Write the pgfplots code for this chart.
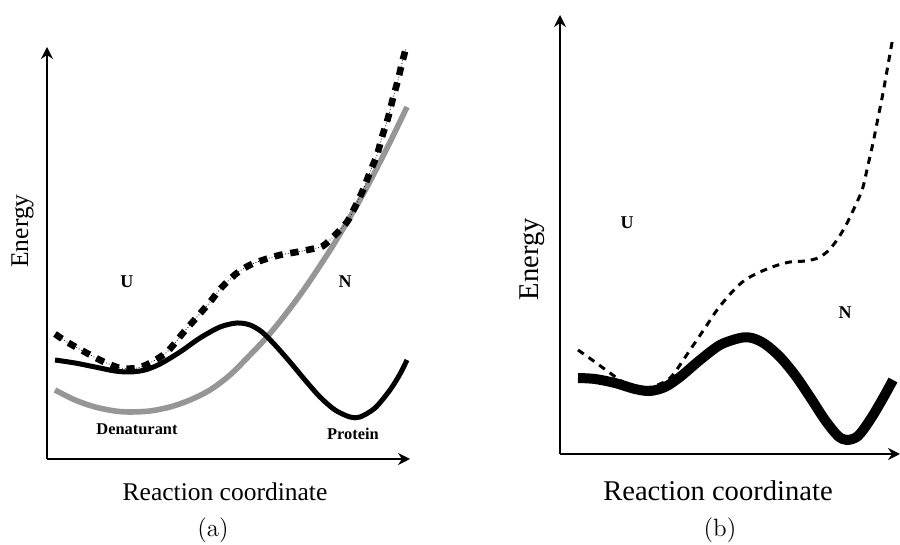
\documentclass[border=0pt]{standalone}
\usepackage{fontspec}
\usepackage{pgfplots}
\pgfplotsset{compat=1.18}
\usetikzlibrary{arrows.meta}
\newfontfamily\tnr{Liberation Serif}
\definecolor{grayline}{RGB}{150,150,150}
\pgfplotsset{
  panel/.style={
    anchor=south west, scale only axis,
    axis lines=left,
    axis line style={line width=1.1pt,-{Stealth[length=6pt,width=6pt,inset=2pt]}},
    xtick=\empty, ytick=\empty, clip=false,
  }
}
\begin{document}
\begin{tikzpicture}
\useasboundingbox (0pt,0pt) rectangle (450pt,272.5pt);
% ---------------- panel (a)
\begin{axis}[panel,
  at={(23.5pt,43pt)}, width=181.5pt, height=206pt,
  xmin=47, xmax=410, ymin=86, ymax=498]
\addplot[grayline, line width=2.8pt, smooth] coordinates {
(55,155) (75,145) (95,138) (115,134) (130,133) (150,134) (170,138) (190,145)
(210,155) (230,170) (250,190) (267,208) (285,230) (305,257) (327,290) (340,311)
(353,333) (367,358) (380,383) (393,409) (407,438)};
\addplot[black, line width=2.5pt, smooth] coordinates {
(55,185) (75,182) (95,178) (115,174) (130,173) (145,175) (160,181) (180,193)
(200,207) (220,218) (237,222) (250,220) (262,213) (275,200) (290,183) (305,165)
(320,148) (335,135) (350,128) (360,128) (375,137) (390,155) (400,171) (407,185)};
\addplot[black, line width=0.4pt, densely dotted, smooth] coordinates {
(55,211) (67,203) (83,194) (102,184) (120,177) (137,177) (150,182) (167,193)
(183,212) (197,228) (210,243) (222,258) (237,272) (250,280) (263,285) (280,290)
(297,293) (312,296) (323,299) (335,310) (347,323) (355,338) (363,355) (370,373)
(377,390) (382,408) (388,427) (393,447) (398,465) (402,482) (406,497)};
\addplot[black, line width=3.3pt, dash pattern=on 4.2pt off 3.8pt, smooth] coordinates {
(55,211) (67,203) (83,194) (102,184) (120,177) (137,177) (150,182) (167,193)
(183,212) (197,228) (210,243) (222,258) (237,272) (250,280) (263,285) (280,290)
(297,293) (312,296) (323,299) (335,310) (347,323) (355,338) (363,355) (370,373)
(377,390) (382,408) (388,427) (393,447) (398,465) (402,482) (406,497)};
\node[font=\tnr\bfseries\fontsize{9}{10}\selectfont] at (axis cs:127,263) {U};
\node[font=\tnr\bfseries\fontsize{9}{10}\selectfont] at (axis cs:345,263) {N};
\node[font=\tnr\bfseries\fontsize{8.2}{10}\selectfont] at (axis cs:137,116) {Denaturant};
\node[font=\tnr\bfseries\fontsize{8.2}{10}\selectfont] at (axis cs:353,111) {Protein};
\node[font=\tnr\fontsize{12.75}{14}\selectfont, rotate=90] at (axis cs:22.5,314) {Energy};
\node[font=\tnr\fontsize{12.75}{14}\selectfont, anchor=base] at (axis cs:225,44) {Reaction coordinate};
\node[font=\fontsize{12.5}{15}\selectfont, anchor=base] at (axis cs:213,8) {(a)};
\end{axis}
% ---------------- panel (b)
\begin{axis}[panel,
  at={(280pt,45.5pt)}, width=170pt, height=219.5pt,
  xmin=560, xmax=900, ymin=91, ymax=530]
\addplot[black, line width=5pt, smooth] coordinates {
(578,167) (595,166) (615,162) (635,156) (650,154) (665,158) (680,168) (700,185)
(720,200) (740,207) (752,207) (765,201) (780,188) (795,170) (810,148) (825,125)
(838,109) (847,105) (858,109) (870,125) (882,145) (893,165)};
\addplot[black, line width=1.5pt, dash pattern=on 3.5pt off 3pt, smooth] coordinates {
(578,195) (595,183) (610,172) (625,162) (645,157) (660,161) (672,169) (690,195)
(705,217) (717,235) (732,253) (745,265) (760,273) (775,279) (790,283) (805,284)
(818,287) (828,294) (837,305) (845,318) (850,328) (858,345) (863,358) (868,380)
(873,402) (878,427) (883,452) (888,480) (893,508)};
\node[font=\tnr\bfseries\fontsize{9}{10}\selectfont] at (axis cs:627,322) {U};
\node[font=\tnr\bfseries\fontsize{9}{10}\selectfont] at (axis cs:845,232) {N};
\node[font=\tnr\fontsize{14.3}{16}\selectfont, rotate=90] at (axis cs:532,286) {Energy};
\node[font=\tnr\fontsize{14.3}{16}\selectfont, anchor=base] at (axis cs:718,44) {Reaction coordinate};
\node[font=\fontsize{12.5}{15}\selectfont, anchor=base] at (axis cs:720,8) {(b)};
\end{axis}
\end{tikzpicture}
\end{document}
